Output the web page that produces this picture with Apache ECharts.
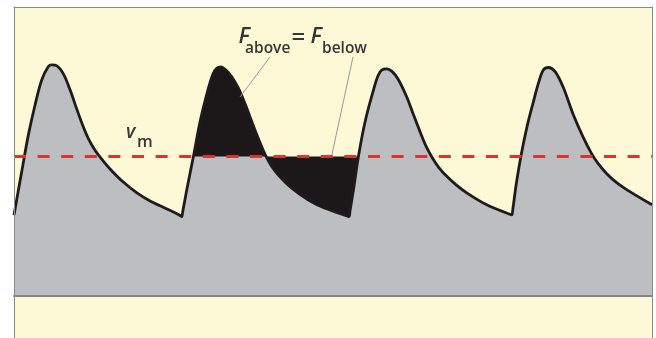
<!DOCTYPE html>
<html><head><meta charset="utf-8">
<script src="https://cdn.jsdelivr.net/npm/echarts@6/dist/echarts.min.js"></script>
<style>html,body{margin:0;padding:0;background:#fff}#c{width:656px;height:338px}</style>
</head><body><div id="c"></div>
<script>
// time (ms) and velocity (arbitrary units) of the pulsatile trace
const timeMs = [
  0, 37, 69, 101, 133, 165, 181, 206, 237, 269, 301, 331, 360, 389, 418, 461, 523, 590, 653, 734, 795, 805,
  809, 830, 861, 893, 933, 955, 974, 994, 1013, 1045, 1077, 1109, 1141, 1173, 1205, 1234, 1272, 1333, 1413, 1493, 1598, 1608,
  1613, 1632, 1653, 1685, 1723, 1747, 1766, 1789, 1814, 1843, 1885, 1915, 1949, 1978, 2006, 2040, 2077, 2122, 2173, 2269, 2379, 2389,
  2394, 2410, 2434, 2462, 2493, 2517, 2541, 2565, 2597, 2635, 2683, 2731, 2770, 2803, 2846, 2894, 2942, 3062
];
const velocity = [
  35.2, 54.0, 70.0, 83.0, 93.9, 99.7, 100.4, 100.0, 96.5, 89.6, 81.3, 73.9, 67.8, 63.3, 59.8, 55.2, 49.6, 44.8, 41.3, 37.8, 35.1, 34.5,
  36.3, 46.5, 60.6, 75.7, 90.3, 96.5, 99.1, 99.6, 98.5, 95.3, 90.3, 83.5, 75.8, 68.3, 61.5, 56.7, 52.2, 46.8, 41.7, 38.1, 34.8, 34.5,
  37.2, 47.8, 60.6, 75.7, 88.8, 95.7, 98.3, 98.7, 97.6, 94.3, 86.5, 79.3, 71.3, 65.0, 60.3, 55.7, 52.0, 48.3, 44.8, 39.6, 35.5, 35.2,
  37.6, 48.3, 61.3, 73.5, 84.5, 92.5, 98.3, 99.3, 97.5, 90.9, 79.1, 69.1, 62.2, 57.6, 53.0, 49.1, 46.1, 39.6
];
const meanVelocity = 60.6;
const highlightStartMs = 861;   // F_above begins
const highlightEndMs = 1653;    // F_below ends
const timeRange = [0, 3062];
const velocityRange = [-18.3, 125.6];

const trace = timeMs.map((t, i) => [t, velocity[i]]);
const highlight = trace.filter(p => p[0] >= highlightStartMs && p[0] <= highlightEndMs);

const textColor = '#363636';
const fontFam = '"Open Sans", sans-serif';
function txt(text, x, y, size, italic, weight) {
  return { type: 'text', z: 100, style: { text, x, y, fill: textColor, verticalAlign: 'top',
    font: (italic ? 'italic ' : '') + (weight || 600) + ' ' + size + 'px ' + fontFam } };
}
const borderLine = { show: true, onZero: false, lineStyle: { color: '#8a8a8a', width: 1 } };
const hidden = { axisTick: { show: false }, axisLabel: { show: false }, splitLine: { show: false } };
const SMOOTH = 0.35;

const chart = echarts.init(document.getElementById('c'), null, { renderer: 'canvas' });
chart.setOption({
  animation: false,
  grid: { left: 14, right: 4, top: 7, bottom: 0, show: true, backgroundColor: '#fdf8d6', borderWidth: 0 },
  xAxis: [
    Object.assign({ type: 'value', min: timeRange[0], max: timeRange[1], z: 10,
      axisLine: { show: true, onZero: true, lineStyle: { color: '#858585', width: 2 } } }, hidden),
    Object.assign({ type: 'value', position: 'top', min: timeRange[0], max: timeRange[1], z: 10,
      axisLine: borderLine }, hidden)
  ],
  yAxis: [
    Object.assign({ type: 'value', position: 'left', min: velocityRange[0], max: velocityRange[1], z: 10,
      axisLine: borderLine }, hidden),
    Object.assign({ type: 'value', position: 'right', min: velocityRange[0], max: velocityRange[1], z: 10,
      axisLine: borderLine }, hidden)
  ],
  series: [
    { type: 'line', data: trace, smooth: SMOOTH, symbol: 'none', z: 2,
      lineStyle: { width: 0 }, areaStyle: { color: '#bdbec2', opacity: 1, origin: 0 } },
    { type: 'line', data: highlight, smooth: SMOOTH, symbol: 'none', z: 3,
      lineStyle: { width: 0 }, areaStyle: { color: '#1c1819', opacity: 1, origin: meanVelocity } },
    { type: 'line', data: trace, smooth: SMOOTH, symbol: 'none', z: 4,
      lineStyle: { color: '#1f1b1c', width: 2.8 } },
    { type: 'line', data: [[timeRange[0], meanVelocity], [timeRange[1], meanVelocity]], symbol: 'none', z: 5,
      lineStyle: { color: '#d9352b', width: 3, type: [12, 11.6], cap: 'butt' },
      markLine: { silent: true, symbol: 'none', label: { show: false },
        lineStyle: { color: '#9a9a9a', width: 1, type: 'solid' },
        data: [
          [{ coord: [1229, 103.9] }, { coord: [1085, 86.5] }],
          [{ coord: [1627, 103.9] }, { coord: [1524, meanVelocity] }]
        ] } }
  ],
  graphic: [
    txt('F', 238.5, 25.7, 22, true),
    txt('above', 245, 40.5, 15.5, false, 600),
    txt('=', 291.5, 26.2, 24, false, 600),
    txt('F', 310.5, 25.7, 22, true),
    txt('below', 322, 40.5, 15.5, false, 600),
    txt('v', 126, 123.5, 19, true),
    txt('m', 137, 133.5, 16.5, false, 600)
  ]
});
</script></body></html>
